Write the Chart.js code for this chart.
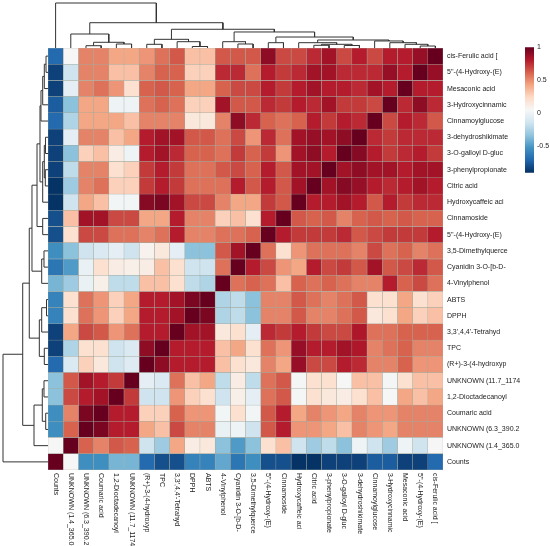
<!DOCTYPE html>
<html>
<head>
<meta charset="utf-8">
<script src="https://cdn.jsdelivr.net/npm/chart.js@4.4.1/dist/chart.umd.min.js"></script>
<style>
  html, body { margin: 0; padding: 0; background: #fff; }
  #wrap { position: relative; width: 550px; height: 546px; }
  #wrap canvas { position: absolute; }
</style>
</head>
<body>
<div id="wrap">
  <canvas id="heat" width="550" height="546" style="left:0;top:0"></canvas>
  <canvas id="topTree" width="395" height="48" style="left:48px;top:0"></canvas>
  <canvas id="leftTree" width="48" height="422" style="left:0;top:48px"></canvas>
  <canvas id="scale" width="30" height="140" style="left:520px;top:40px"></canvas>
</div>
<script>
// rows, top to bottom
const rowLabels = [
  'cis-Ferulic acid [', "5''-(4-Hydroxy-(E)", 'Mesaconic acid', '3-Hydroxycinnamic',
  'Cinnamoylglucose', '3-dehydroshikimate', '3-O-galloyl D-gluc', '3-phenylpropionate',
  'Citric acid', 'Hydroxycaffeic aci', 'Cinnamoside', "5''-(4-Hydroxy-(E)",
  '3,5-Dimethylquerce', 'Cyanidin 3-O-[b-D-', '4-Vinylphenol', 'ABTS', 'DPPH',
  "3,3',4,4'-Tetrahyd", 'TPC', '(R+)-3-(4-hydroxyp', 'UNKNOWN (11.7_1174',
  '1,2-Dioctadecanoyl', 'Coumaric acid', 'UNKNOWN (6.3_390.2', 'UNKNOWN (1.4_365.0', 'Counts'
];
// columns, left to right
const colLabels = [
  'Counts', 'UNKNOWN (1.4_365.0', 'UNKNOWN (6.3_390.2', 'Coumaric acid', '1,2-Dioctadecanoyl',
  'UNKNOWN (11.7_1174', '(R+)-3-(4-hydroxyp', 'TPC', "3,3',4,4'-Tetrahyd", 'DPPH', 'ABTS',
  '4-Vinylphenol', 'Cyanidin 3-O-[b-D-', '3,5-Dimethylquerce', "5''-(4-Hydroxy-(E)", 'Cinnamoside',
  'Hydroxycaffeic aci', 'Citric acid', '3-phenylpropionate', '3-O-galloyl D-gluc',
  '3-dehydroshikimate', 'Cinnamoylglucose', '3-Hydroxycinnamic', 'Mesaconic acid',
  "5''-(4-Hydroxy-(E)", 'cis-Ferulic acid ['
];

// correlation values, one row per rowLabels entry, columns in colLabels order
const corr = [
  [-0.7, 0.05, 0.52, 0.52, 0.42, 0.42, 0.47, 0.57, 0.64, 0.33, 0.33, 0.64, 0.64, 0.64, 0.9, 0.68, 0.68, 0.76, 0.85, 0.68, 0.8, 0.68, 0.8, 0.8, 0.88, 1.0],
  [-0.85, -0.15, 0.52, 0.52, 0.33, 0.33, 0.52, 0.61, 0.61, 0.27, 0.27, 0.76, 0.76, 0.57, 0.8, 0.72, 0.76, 0.85, 0.85, 0.76, 0.76, 0.76, 0.88, 0.8, 1.0, 0.88],
  [-0.85, -0.05, 0.52, 0.57, 0.47, 0.2, 0.61, 0.64, 0.61, 0.42, 0.42, 0.61, 0.68, 0.68, 0.8, 0.72, 0.8, 0.85, 0.8, 0.8, 0.76, 0.85, 0.8, 1.0, 0.8, 0.8],
  [-0.75, -0.35, 0.42, 0.42, 0.0, 0.0, 0.57, 0.61, 0.57, 0.27, 0.27, 0.85, 0.64, 0.64, 0.76, 0.72, 0.8, 0.76, 0.85, 0.72, 0.72, 0.68, 1.0, 0.76, 0.9, 0.76],
  [-0.7, -0.25, 0.42, 0.42, 0.42, 0.33, 0.52, 0.52, 0.52, 0.15, 0.15, 0.52, 0.9, 0.76, 0.61, 0.57, 0.61, 0.8, 0.72, 0.8, 0.76, 1.0, 0.68, 0.8, 0.76, 0.64],
  [-0.85, -0.05, 0.52, 0.52, 0.33, 0.42, 0.8, 0.85, 0.85, 0.64, 0.64, 0.57, 0.68, 0.47, 0.76, 0.57, 0.85, 0.88, 0.85, 0.9, 1.0, 0.76, 0.72, 0.76, 0.76, 0.76],
  [-0.85, -0.35, 0.27, 0.33, 0.12, 0.0, 0.8, 0.85, 0.76, 0.61, 0.61, 0.57, 0.72, 0.61, 0.72, 0.47, 0.85, 0.9, 0.8, 1.0, 0.92, 0.8, 0.72, 0.76, 0.8, 0.72],
  [-0.85, -0.2, 0.52, 0.52, 0.2, 0.27, 0.72, 0.8, 0.72, 0.57, 0.57, 0.64, 0.68, 0.61, 0.8, 0.64, 0.85, 0.85, 1.0, 0.85, 0.9, 0.85, 0.85, 0.8, 0.85, 0.85],
  [-0.9, -0.3, 0.52, 0.57, 0.27, 0.27, 0.72, 0.8, 0.72, 0.57, 0.57, 0.57, 0.8, 0.64, 0.8, 0.64, 0.85, 1.0, 0.85, 0.92, 0.88, 0.8, 0.76, 0.8, 0.85, 0.8],
  [-0.9, -0.15, 0.42, 0.33, 0.02, 0.02, 0.92, 0.95, 0.85, 0.68, 0.68, 0.52, 0.42, 0.42, 0.72, 0.64, 1.0, 0.8, 0.8, 0.85, 0.8, 0.64, 0.8, 0.72, 0.76, 0.76],
  [-0.8, 0.33, 0.85, 0.85, 0.68, 0.68, 0.42, 0.42, 0.8, 0.52, 0.52, 0.27, 0.33, 0.2, 0.8, 1.0, 0.64, 0.61, 0.64, 0.52, 0.61, 0.64, 0.61, 0.64, 0.61, 0.61],
  [-0.8, 0.2, 0.68, 0.68, 0.57, 0.57, 0.52, 0.57, 0.8, 0.52, 0.52, 0.57, 0.57, 0.61, 1.0, 0.8, 0.72, 0.72, 0.72, 0.76, 0.64, 0.68, 0.72, 0.72, 0.72, 0.8],
  [-0.55, -0.35, -0.15, -0.1, -0.05, -0.15, 0.08, 0.15, -0.05, -0.35, -0.35, 0.64, 0.85, 1.0, 0.57, 0.2, 0.47, 0.57, 0.57, 0.57, 0.52, 0.68, 0.57, 0.61, 0.52, 0.57],
  [-0.65, -0.5, -0.02, 0.2, 0.12, 0.1, 0.12, 0.33, 0.2, -0.15, -0.15, 0.57, 1.0, 0.8, 0.68, 0.47, 0.42, 0.8, 0.68, 0.72, 0.64, 0.85, 0.64, 0.68, 0.76, 0.64],
  [-0.4, -0.3, -0.02, 0.1, -0.2, -0.2, 0.33, 0.33, 0.2, -0.2, -0.25, 1.0, 0.57, 0.61, 0.57, 0.33, 0.61, 0.57, 0.61, 0.57, 0.52, 0.52, 0.8, 0.61, 0.68, 0.57],
  [-0.6, 0.2, 0.57, 0.47, 0.27, 0.42, 0.8, 0.8, 0.85, 0.95, 1.0, -0.25, -0.2, -0.35, 0.52, 0.52, 0.64, 0.57, 0.52, 0.57, 0.64, 0.2, 0.2, 0.42, 0.2, 0.27],
  [-0.6, 0.2, 0.57, 0.47, 0.27, 0.42, 0.8, 0.8, 0.85, 1.0, 0.95, -0.25, -0.2, -0.35, 0.52, 0.52, 0.64, 0.52, 0.52, 0.57, 0.64, 0.15, 0.2, 0.42, 0.27, 0.33],
  [-0.85, 0.42, 0.68, 0.64, 0.47, 0.57, 0.8, 0.8, 1.0, 0.85, 0.85, 0.15, 0.2, -0.05, 0.76, 0.72, 0.8, 0.72, 0.68, 0.68, 0.82, 0.57, 0.57, 0.61, 0.61, 0.61],
  [-0.85, -0.25, 0.2, 0.2, -0.15, -0.1, 0.9, 1.0, 0.8, 0.8, 0.8, 0.33, 0.42, 0.2, 0.57, 0.47, 0.88, 0.8, 0.8, 0.85, 0.82, 0.52, 0.57, 0.61, 0.52, 0.52],
  [-0.7, -0.1, 0.27, 0.15, -0.15, -0.08, 1.0, 0.9, 0.8, 0.8, 0.8, 0.33, 0.2, 0.15, 0.52, 0.42, 0.88, 0.68, 0.68, 0.8, 0.76, 0.52, 0.52, 0.61, 0.47, 0.47],
  [-0.35, 0.64, 0.85, 0.8, 0.72, 1.0, -0.05, -0.1, 0.57, 0.33, 0.42, -0.2, 0.12, -0.2, 0.57, 0.64, 0.03, 0.2, 0.2, 0.05, 0.33, 0.33, 0.03, 0.2, 0.33, 0.33],
  [-0.35, 0.68, 0.8, 0.85, 1.0, 0.72, -0.15, -0.15, 0.47, 0.27, 0.2, -0.15, 0.1, -0.05, 0.57, 0.64, 0.03, 0.2, 0.15, 0.12, 0.2, 0.33, 0.05, 0.42, 0.33, 0.42],
  [-0.55, 0.52, 0.95, 1.0, 0.8, 0.8, 0.27, 0.27, 0.61, 0.47, 0.47, 0.02, 0.2, 0.02, 0.64, 0.8, 0.42, 0.52, 0.47, 0.42, 0.52, 0.47, 0.47, 0.52, 0.52, 0.52],
  [-0.55, 0.61, 1.0, 0.95, 0.8, 0.8, 0.42, 0.33, 0.68, 0.52, 0.52, -0.02, 0.0, -0.15, 0.64, 0.8, 0.47, 0.47, 0.42, 0.33, 0.52, 0.47, 0.42, 0.52, 0.52, 0.52],
  [0.05, 1.0, 0.61, 0.52, 0.64, 0.61, -0.15, -0.3, 0.42, 0.12, 0.15, -0.35, -0.5, -0.35, 0.2, 0.33, -0.15, -0.3, -0.2, -0.35, 0.0, -0.15, -0.3, 0.0, -0.15, 0.05],
  [1.0, 0.05, -0.55, -0.55, -0.4, -0.4, -0.7, -0.8, -0.8, -0.6, -0.6, -0.45, -0.65, -0.55, -0.8, -0.8, -0.9, -0.9, -0.85, -0.85, -0.85, -0.75, -0.75, -0.85, -0.85, -0.7]
];

// cluster merges: [left, right, height]; ids >= 26 point at earlier merges
const linkage = [
  [9, 10, 0.033], [24, 25, 0.044], [2, 3, 0.051], [19, 20, 0.056], [17, 18, 0.060],
  [6, 7, 0.082], [23, 27, 0.082], [30, 29, 0.082], [4, 5, 0.089], [12, 13, 0.089],
  [14, 15, 0.118], [16, 33, 0.118], [22, 32, 0.118], [28, 34, 0.127], [8, 26, 0.140],
  [11, 35, 0.140], [21, 38, 0.156], [37, 42, 0.178], [31, 40, 0.193], [36, 43, 0.244],
  [1, 39, 0.311], [41, 45, 0.356], [44, 47, 0.416], [46, 48, 0.562], [0, 49, 1.0]
];

const colorMin = -0.91, colorMax = 1;
const colorTicks = [1, 0.5, 0, -0.5];
const rdbu = [
  [5, 48, 97], [33, 102, 172], [67, 147, 195], [146, 197, 222], [209, 229, 240], [247, 247, 247],
  [253, 219, 199], [244, 165, 130], [214, 96, 77], [178, 24, 43], [103, 0, 31]
];

Chart.defaults.font.family = '"Liberation Sans", Arial, sans-serif';

function colorFor(v) {
  let t = (v - colorMin) / (colorMax - colorMin);
  t = Math.max(0, Math.min(1, t)) * (rdbu.length - 1);
  const i = Math.min(Math.floor(t), rdbu.length - 2), f = t - i;
  const c = rdbu[i].map((a, k) => Math.round(a + (rdbu[i + 1][k] - a) * f));
  return 'rgb(' + c.join(',') + ')';
}

const colLabelPlugin = {
  id: 'colLabels',
  afterDraw(chart) {
    const {ctx, chartArea, scales} = chart;
    ctx.save();
    ctx.font = '7px "Liberation Sans", Arial, sans-serif';
    ctx.fillStyle = '#222';
    ctx.textAlign = 'left';
    ctx.textBaseline = 'middle';
    colLabels.forEach((name, j) => {
      ctx.save();
      ctx.translate(scales.x.getPixelForValue(j + 0.5), chartArea.bottom + 3);
      ctx.rotate(Math.PI / 2);
      ctx.fillText(name, 0, 0);
      ctx.restore();
    });
    ctx.restore();
  }
};

const heatSets = colLabels.map((name, j) => ({
  label: name,
  data: rowLabels.map(() => 1),
  backgroundColor: rowLabels.map((_, r) => colorFor(corr[r][j])),
  borderColor: '#a2a89c',
  borderWidth: 0.5,
  borderSkipped: false,
  categoryPercentage: 1,
  barPercentage: 1
}));

new Chart(document.getElementById('heat'), {
  type: 'bar',
  data: { labels: rowLabels, datasets: heatSets },
  options: {
    indexAxis: 'y',
    responsive: false,
    animation: false,
    layout: { padding: { left: 48, top: 48, right: 0, bottom: 76 } },
    plugins: { legend: { display: false }, tooltip: { enabled: false } },
    scales: {
      x: { stacked: true, min: 0, max: 26, display: false },
      y: {
        stacked: true,
        position: 'right',
        grid: { display: false, drawTicks: false },
        border: { display: false },
        ticks: { font: { size: 7 }, color: '#222', padding: 4, autoSkip: false },
        afterFit: s => { s.width = 107; }
      }
    }
  },
  plugins: [colLabelPlugin]
});

// dendrogram links built from the linkage list
function treeSets(horizontal) {
  const pos = [], ht = [];
  colLabels.forEach((_, i) => { pos[i] = i; ht[i] = 0; });
  return linkage.map(([a, b, h], k) => {
    const id = colLabels.length + k;
    pos[id] = (pos[a] + pos[b]) / 2;
    ht[id] = h;
    const pts = [[pos[a], ht[a]], [pos[a], h], [pos[b], h], [pos[b], ht[b]]];
    return {
      data: pts.map(([p, v]) => horizontal ? { x: p, y: v } : { x: v, y: p }),
      showLine: true, pointRadius: 0, borderColor: '#333', borderWidth: 1, clip: false
    };
  });
}

const treeOpts = (scales, padding) => ({
  responsive: false,
  animation: false,
  layout: { padding },
  plugins: { legend: { display: false }, tooltip: { enabled: false } },
  scales
});

new Chart(document.getElementById('topTree'), {
  type: 'scatter',
  data: { datasets: treeSets(true) },
  options: treeOpts({
    x: { min: -0.5, max: 25.5, display: false },
    y: { min: 0, max: 1, display: false }
  }, { top: 3, bottom: 0, left: 0, right: 0 })
});

new Chart(document.getElementById('leftTree'), {
  type: 'scatter',
  data: { datasets: treeSets(false) },
  options: treeOpts({
    x: { min: 0, max: 1, reverse: true, display: false },
    y: { min: -0.5, max: 25.5, display: false }
  }, { left: 3, right: 0, top: 0, bottom: 0 })
});

function barGradient(chart) {
  if (!chart.chartArea) return null;
  const y = chart.scales.y;
  const g = chart.ctx.createLinearGradient(0, y.getPixelForValue(colorMin), 0, y.getPixelForValue(colorMax));
  rdbu.forEach((c, i) => g.addColorStop(i / (rdbu.length - 1), 'rgb(' + c.join(',') + ')'));
  return g;
}

new Chart(document.getElementById('scale'), {
  type: 'bar',
  data: {
    labels: [''],
    datasets: [{
      data: [[colorMin, colorMax]],
      backgroundColor: ctx => barGradient(ctx.chart),
      borderWidth: 0,
      categoryPercentage: 1,
      barPercentage: 1
    }]
  },
  options: {
    responsive: false,
    animation: false,
    layout: { padding: { left: 5, top: 7, bottom: 5, right: 0 } },
    plugins: { legend: { display: false }, tooltip: { enabled: false } },
    scales: {
      x: { display: false },
      y: {
        position: 'right',
        min: colorMin,
        max: colorMax,
        grid: { display: false, drawTicks: false },
        border: { display: false },
        afterBuildTicks: s => { s.ticks = colorTicks.map(v => ({ value: v })); },
        ticks: { font: { size: 7 }, color: '#222', padding: 3, callback: v => String(v) },
        afterFit: s => { s.width = 16; }
      }
    }
  }
});
</script>
</body>
</html>
